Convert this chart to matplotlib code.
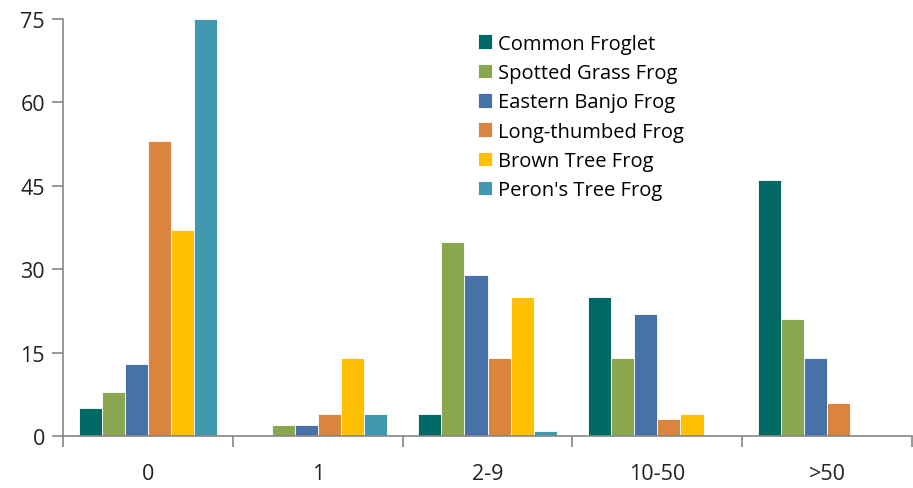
import matplotlib.pyplot as plt
import numpy as np

categorie = ['0', '1', '2-9', '10-50', '>50']
specie = ['Common Froglet', 'Spotted Grass Frog', 'Eastern Banjo Frog',
          'Long-thumbed Frog', 'Brown Tree Frog', "Peron's Tree Frog"]

common_froglet = [5, 0, 4, 25, 46]
spotted_grass = [8, 2, 35, 14, 21]
eastern_banjo = [13, 2, 29, 22, 14]
long_thumbed = [53, 4, 14, 3, 6]
brown_tree = [37, 14, 25, 4, 0]
perons_tree = [75, 4, 1, 0, 0]

colori = ['#006865', '#8aa64f', '#4672a8', '#db843d', '#ffc000', '#4298af']

plt.rcParams['font.family'] = ['Open Sans', 'DejaVu Sans']

fig = plt.figure(figsize=(9.13, 4.89), dpi=100)
ax = fig.add_axes([0.069, 0.106, 0.93, 0.853])

serie = [common_froglet, spotted_grass, eastern_banjo, long_thumbed, brown_tree, perons_tree]
x = np.arange(len(categorie))
larg = 0.136
for i, (nome, valori) in enumerate(zip(specie, serie)):
    ax.bar(x + (i - 2.5) * larg, valori, width=larg, color=colori[i], label=nome,
           edgecolor='white', linewidth=0.6)

ax.set_xlim(-0.5, 4.5)
ax.set_ylim(0, 75)
ax.set_yticks([0, 15, 30, 45, 60, 75])
ax.set_xticks(x)
ax.set_xticklabels(categorie)
# tacche tra le categorie
ax.set_xticks(np.arange(-0.5, 4.6, 1), minor=True)

for s in ['top', 'right']:
    ax.spines[s].set_visible(False)
for s in ['left', 'bottom']:
    ax.spines[s].set_color('#868686')
    ax.spines[s].set_linewidth(1.2)

ax.tick_params(axis='y', direction='out', length=8, color='#868686', width=1.2,
               labelsize=15.5, colors='#868686', labelcolor='#222222', pad=5)
ax.tick_params(axis='x', which='major', length=0, labelsize=15.5, labelcolor='#222222', pad=19)
ax.tick_params(axis='x', which='minor', direction='out', length=8, color='#868686', width=1.2)

ax.legend(loc='upper left', bbox_to_anchor=(0.479, 0.984), frameon=False, fontsize=14.5,
          handlelength=0.73, handleheight=0.73, handletextpad=0.25, labelspacing=0.46,
          borderaxespad=0)

plt.savefig('out.png', dpi=100)
